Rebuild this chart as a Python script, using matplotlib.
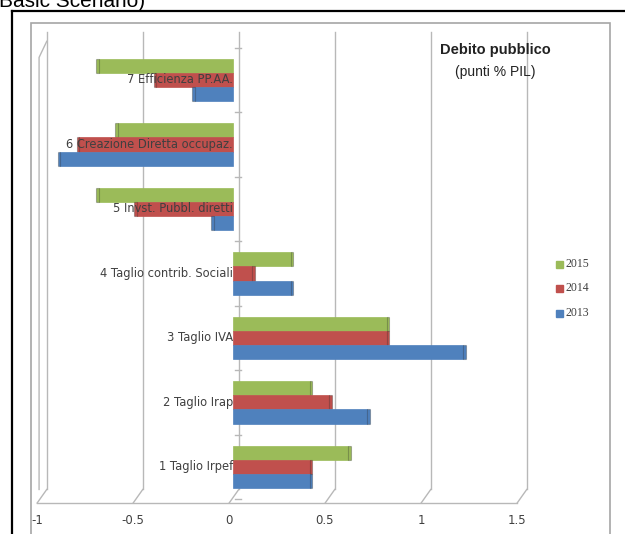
import matplotlib
matplotlib.use("Agg")
import matplotlib.pyplot as plt
import matplotlib.transforms as mtransforms
import numpy as np
from matplotlib.patches import Rectangle
from matplotlib.lines import Line2D

categories = ["1 Taglio Irpef", "2 Taglio Irap", "3 Taglio IVA",
              "4 Taglio contrib. Sociali", "5 Invst. Pubbl. diretti",
              "6 Creazione Diretta occupaz.", "7 Efficienza PP.AA."]
v2013 = [0.4, 0.7, 1.2, 0.3, -0.1, -0.9, -0.2]
v2014 = [0.4, 0.5, 0.8, 0.1, -0.5, -0.8, -0.4]
v2015 = [0.6, 0.4, 0.8, 0.3, -0.7, -0.6, -0.7]
xticks = [-1, -0.5, 0, 0.5, 1, 1.5]

GREEN, RED, BLUE = "#9BBB59", "#C0504D", "#4F81BD"
GRID = "#b8b8b8"

W, H = 625, 534
fig = plt.figure(figsize=(W / 100, H / 100), dpi=100)
fig.patch.set_facecolor("white")

# outer frames (screenshot border + chart area border)
fig.add_artist(Line2D([12 / W, 1], [1 - 11 / H] * 2, color="black", lw=1.6))
fig.add_artist(Line2D([12 / W] * 2, [0, 1 - 11 / H], color="black", lw=1.6))
fig.add_artist(Rectangle((31 / W, -0.01), (610 - 31) / W, 1 - 23 / H + 0.01,
                         fill=False, ec="#a6a6a6", lw=1.2))
fig.text(-0.012, 1 - 7 / H, "(Basic Scenario)", fontsize=15, family="Liberation Sans",
         va="baseline", ha="left")

ax = fig.add_axes([41 / W, (H - 503) / H, 480 / W, 463 / H])
ax.set_xlim(-1, 1.5)
ax.set_ylim(-0.56, 6.62)

y = np.arange(len(categories))
h = 0.22
for vals, off, col in [(v2015, h, GREEN), (v2014, 0, RED), (v2013, -h, BLUE)]:
    ax.barh(y + off, vals, height=h, color=col, edgecolor=col, lw=0.5, zorder=3)
    # darker end face to hint the 3D look
    ax.barh(y + off, [0.014 * np.sign(v) for v in vals], left=vals, height=h,
            color=col, edgecolor="#00000040", lw=0.8, zorder=3)

# back wall gridlines
for t in xticks:
    ax.plot([t + 0.03, t + 0.03], [-0.35, 6.75], color=GRID, lw=1.0,
            zorder=1, clip_on=False)
# left wall edge
ax.plot([-1.01, -1.01, -0.97], [-0.35, 6.35, 6.6], color=GRID, lw=1.0, clip_on=False)
# floor front edge with ticks
ax.plot([-1.02, 1.48], [-0.56, -0.56], color=GRID, lw=1.0, clip_on=False)
for t in xticks:
    ax.plot([t - 0.02, t + 0.03], [-0.56, -0.35], color=GRID, lw=1.0, clip_on=False)
# category axis ticks
for b in np.arange(-0.5, 7, 1):
    ax.plot([0.01, 0.04], [b, b], color=GRID, lw=1.0, zorder=2)

for yi, lab in zip(y, categories):
    ax.text(0.0, yi, lab, ha="right", va="center", fontsize=8.3,
            family=["Liberation Sans Narrow", "DejaVu Sans"], color="#404040", zorder=4)

for s in ax.spines.values():
    s.set_visible(False)
ax.set_yticks([])
ax.set_xticks(xticks)
ax.set_xticklabels(["-1", "-0.5", "0", "0.5", "1", "1.5"], fontsize=8.5,
                   family=["Liberation Sans Narrow", "DejaVu Sans"], color="#404040")
ax.tick_params(axis="x", length=0, pad=8)
shift = mtransforms.ScaledTranslation(-4 / 100, 0, fig.dpi_scale_trans)
for lbl in ax.get_xticklabels():
    lbl.set_transform(lbl.get_transform() + shift)

fig.text(495 / W, 1 - 50 / H, "Debito pubblico", fontsize=10.5, weight="bold",
         family="Liberation Sans", ha="center", va="center", color="#222222")
fig.text(495 / W, 1 - 72 / H, "(punti % PIL)", fontsize=10,
         family="Liberation Sans", ha="center", va="center", color="#222222")

for lab, col, py in [("2015", GREEN, 264), ("2014", RED, 288), ("2013", BLUE, 313)]:
    fig.add_artist(Rectangle((556 / W, 1 - (py + 4) / H), 7 / W, 7 / H,
                             color=col, transform=fig.transFigure))
    fig.text(566 / W, 1 - py / H, lab, fontsize=8.5, family="Liberation Serif",
             va="center", ha="left", color="#404040")

fig.savefig("out.png", dpi=100)
